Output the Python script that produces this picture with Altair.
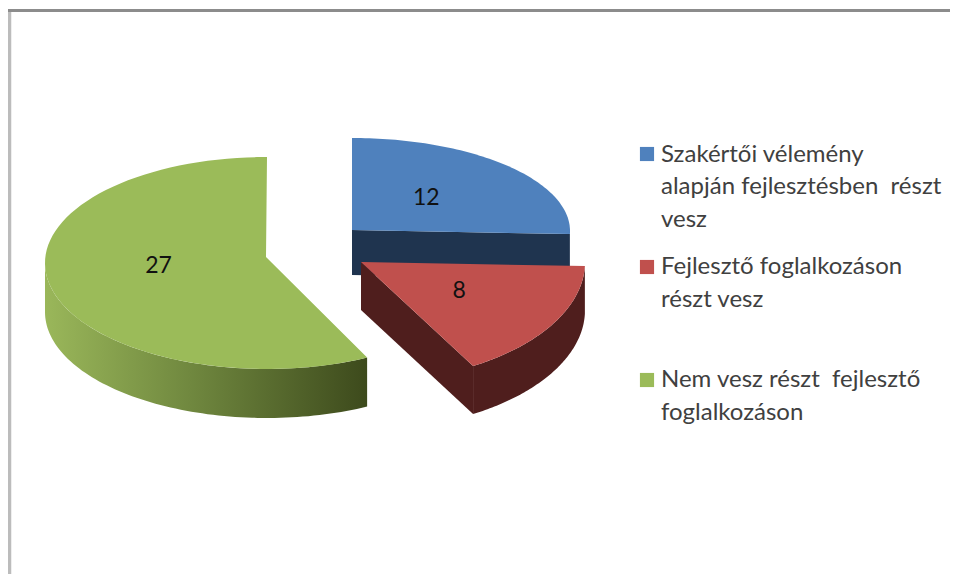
import math
import altair as alt

# ---- data ----
VALUES = [12, 8, 27]
NAMES = [
    "Szakértői vélemény alapján fejlesztésben részt vesz",
    "Fejlesztő foglalkozáson részt vesz",
    "Nem vesz részt fejlesztő foglalkozáson",
]
LEGEND_LINES = [
    ["Szakértői vélemény", "alapján fejlesztésben\u00a0 részt", "vesz"],
    ["Fejlesztő foglalkozáson", "részt vesz"],
    ["Nem vesz részt\u00a0 fejlesztő", "foglalkozáson"],
]
TOP_COLORS = ["#4f81bd", "#c0504d", "#9bbb59"]
WALL_COLORS = ["#1f344f", "#4f1e1d", None]

# ---- 3D view of each exploded slice (page pixels) ----
VIEWS = [
    dict(cx=352, cy=231, rx=218, ry=93, ax=352, ay=230, depth=45, sweep=1.0, ldx=-4, ldy=2),
    dict(cx=362, cy=262, rx=223, ry=120, ax=361, ay=262, depth=48, sweep=0.95, ldx=2, ldy=0),
    dict(cx=267, cy=263, rx=222, ry=106, ax=266, ay=257, depth=49, sweep=1.0, ldx=0, ldy=-4),
]
LEGEND_X_SQUARE, LEGEND_X_TEXT = 647, 661
LEGEND_Y = [[155, 187, 220], [267, 300], [380, 413]]
SQUARE_Y = [154, 267, 380]

total = sum(VALUES)
angles = []
a = 0.0
for v in VALUES:
    angles.append((a, a + v / total * 360))
    a += v / total * 360


def pt(view, deg, dy=0.0):
    t = math.radians(deg)
    return [view["cx"] + view["rx"] * math.sin(t), view["cy"] - view["ry"] * math.cos(t) + dy]


def arc(view, a0, a1, dy=0.0, n=80):
    return [pt(view, a0 + (a1 - a0) * i / n, dy) for i in range(n + 1)]


def poly(points):
    return {"type": "Feature", "properties": {},
            "geometry": {"type": "Polygon", "coordinates": [points + [points[0]]]}}


def line(points):
    return {"type": "Feature", "properties": {},
            "geometry": {"type": "LineString", "coordinates": points}}


PROJ = alt.Projection(type="identity", scale=1, translate=[-8, -8])


def shape(features, **mark):
    data = alt.InlineData(
        values={"type": "FeatureCollection", "features": features},
        format=alt.DataFormat(property="features", type="json"),
    )
    return alt.Chart(data).mark_geoshape(**mark).encode(
        tooltip=alt.value(None)
    ).project(**PROJ.to_dict())


layers = []

# frame
layers.append(shape([line([[9.5, 10], [9.5, 590]])], filled=False, stroke="#bcbcbc", strokeWidth=3.5))
layers.append(shape([line([[8, 10.4], [966, 10.4]])], filled=False, stroke="#8c8c8c", strokeWidth=3))

# real slice extents
ext = []
for (a0, a1), view in zip(angles, VIEWS):
    ext.append((a0, a0 + (a1 - a0) * view["sweep"]))

# green slice (index 2)
v = VIEWS[2]
a0, a1 = ext[2]
g_top = arc(v, a0, 270)
g_bot = arc(v, a0, 270, v["depth"])
layers.append(shape(
    [poly(g_top + g_bot[::-1])],
    fill=alt.Gradient(
        gradient="linear", x1=0, x2=1, y1=0, y2=0,
        stops=[
            alt.GradientStop(offset=0, color="#9ab75a"),
            alt.GradientStop(offset=0.45, color="#70883f"),
            alt.GradientStop(offset=1, color="#3d4a1c"),
        ],
    ),
    stroke=None,
))
layers.append(shape([poly([[v["ax"], v["ay"]]] + arc(v, a0, a1))], fill=TOP_COLORS[2], stroke=None))

# blue slice
v = VIEWS[0]
a0, a1 = ext[0]
end = pt(v, a1)
layers.append(shape(
    [poly([[v["ax"], v["ay"]], end, [end[0], end[1] + v["depth"]], [v["ax"], v["ay"] + v["depth"]]])],
    fill=WALL_COLORS[0], stroke=None,
))
layers.append(shape([poly([[v["ax"], v["ay"]]] + arc(v, a0, a1))], fill=TOP_COLORS[0], stroke=None))

# red slice
v = VIEWS[1]
a0, a1 = ext[1]
end = pt(v, a1)
layers.append(shape(
    [poly([[v["ax"], v["ay"]], end, [end[0], end[1] + v["depth"]], [v["ax"], v["ay"] + v["depth"]]])],
    fill=WALL_COLORS[1], stroke=None,
))
layers.append(shape(
    [poly(arc(v, a0, a1) + arc(v, a0, a1, v["depth"])[::-1])],
    fill=WALL_COLORS[1], stroke=None,
))
layers.append(shape([poly([[v["ax"], v["ay"]]] + arc(v, a0, a1))], fill=TOP_COLORS[1], stroke=None))

# value labels: half way from the apex to the middle of the rim
rows = []
for val, (a0, a1), view in zip(VALUES, ext, VIEWS):
    m = pt(view, (a0 + a1) / 2)
    rows.append({"lon": (view["ax"] + m[0]) / 2 + view["ldx"],
                 "lat": (view["ay"] + m[1]) / 2 - 2 + view["ldy"], "t": str(val)})
layers.append(
    alt.Chart(alt.Data(values=rows))
    .mark_text(font="Lato", fontSize=23, color="#111111", align="center", baseline="middle")
    .encode(longitude="lon:Q", latitude="lat:Q", text="t:N")
    .project(**PROJ.to_dict())
)

# legend
sq_rows = [{"lon": LEGEND_X_SQUARE, "lat": y, "c": c, "name": n}
           for y, c, n in zip(SQUARE_Y, TOP_COLORS, NAMES)]
layers.append(
    alt.Chart(alt.Data(values=sq_rows))
    .mark_square(size=200, opacity=1, filled=True)
    .encode(longitude="lon:Q", latitude="lat:Q", color=alt.Color("c:N", scale=None))
    .project(**PROJ.to_dict())
)
txt_rows = []
for lines, ys in zip(LEGEND_LINES, LEGEND_Y):
    for s, y in zip(lines, ys):
        txt_rows.append({"lon": LEGEND_X_TEXT, "lat": y, "t": s})
layers.append(
    alt.Chart(alt.Data(values=txt_rows))
    .mark_text(font="Lato", fontSize=24, color="#404040", align="left", baseline="middle")
    .encode(longitude="lon:Q", latitude="lat:Q", text="t:N")
    .project(**PROJ.to_dict())
)

chart = (
    alt.layer(*layers)
    .properties(width=942, height=566, padding=0, background="white",
                autosize=alt.AutoSizeParams(type="none"))
    .configure_view(stroke=None)
)
chart.save("out.html", embed_options={"renderer": "svg", "actions": False})
